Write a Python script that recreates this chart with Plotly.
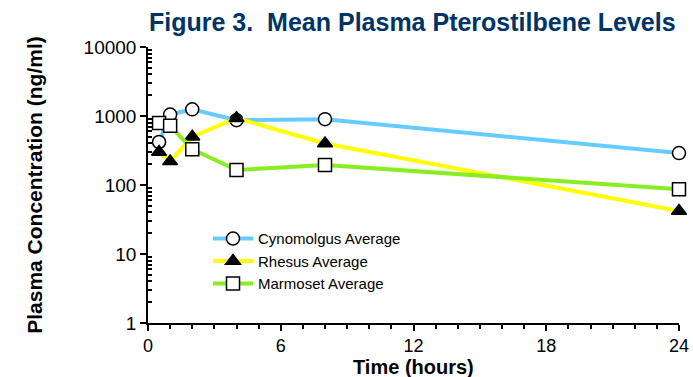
import plotly.graph_objects as go

time_h = [0.5, 1, 2, 4, 8, 24]
cynomolgus = [420, 1050, 1250, 870, 900, 290]
rhesus = [300, 220, 500, 930, 400, 42]
marmoset = [790, 720, 330, 165, 195, 87]
x_ticks = [0, 6, 12, 18, 24]
y_ticks = [1, 10, 100, 1000, 10000]
y_tick_labels = ["1", "10", "100", "1000", "10000"]
y_minor = [m * d for d in (1, 10, 100, 1000) for m in range(2, 10)]

series = [
    ("Cynomolgus Average", cynomolgus, "#66CCFF", "circle", "white"),
    ("Rhesus Average", rhesus, "#FFFF00", "triangle-up", "black"),
    ("Marmoset Average", marmoset, "#88EE22", "square", "white"),
]

fig = go.Figure()
for name, vals, col, sym, fill in series:
    fig.add_trace(go.Scatter(
        x=time_h, y=vals, name=name, mode="lines+markers",
        line=dict(color=col, width=4),
        marker=dict(symbol=sym, size=13, color=fill, line=dict(color="black", width=1.5)),
        cliponaxis=False,
    ))

fig.update_layout(
    width=693, height=377,
    margin=dict(l=148, r=14, t=47, b=54, autoexpand=False),
    paper_bgcolor="white", plot_bgcolor="white",
    font=dict(family="Liberation Sans, Arial, sans-serif", size=16, color="black"),
    title=dict(text="<b>Figure 3.  Mean Plasma Pterostilbene Levels</b>",
               font=dict(family="Liberation Sans, Arial", size=25, color="#003366"),
               x=0.595, xanchor="center", y=0.942, yanchor="middle"),
    showlegend=True,
    legend=dict(x=0.113, y=0.365, xanchor="left", yanchor="top", bgcolor="rgba(0,0,0,0)",
                font=dict(size=15), tracegroupgap=0, itemwidth=40),
    xaxis=dict(range=[0, 24], tickvals=x_ticks, showgrid=False, zeroline=False,
               automargin=False,
               showline=True, linecolor="black", linewidth=1.5,
               ticks="outside", ticklen=6, tickwidth=1.5, tickcolor="black",
               minor=dict(dtick=1, ticks="outside", ticklen=4, tickcolor="black", showgrid=False),
               tickfont=dict(size=18)),
    xaxis2=dict(range=[0, 24], tickvals=x_ticks, overlaying="x", anchor="y", side="bottom",
                showgrid=False, zeroline=False, showline=False, showticklabels=False,
                ticks="inside", ticklen=5, tickwidth=1.5, tickcolor="black", automargin=False),
    yaxis=dict(type="log", range=[0, 4], tickvals=y_ticks, ticktext=y_tick_labels,
               showgrid=False, zeroline=False, automargin=False,
               showline=True, linecolor="black", linewidth=1.5,
               ticks="outside", ticklen=6, tickwidth=1.5, tickcolor="black",
               minor=dict(tickvals=y_minor, ticks="inside", ticklen=4, tickcolor="black", showgrid=False),
               title=dict(text="<b>Plasma Concentration (ng/ml)</b>", font=dict(size=21), standoff=35),
               tickfont=dict(size=19)),
    yaxis2=dict(type="log", range=[0, 4], tickvals=y_ticks, overlaying="y", anchor="x", side="left",
                showgrid=False, zeroline=False, showline=False, showticklabels=False,
                ticks="inside", ticklen=5, tickwidth=1.5, tickcolor="black", automargin=False),
    annotations=[dict(text="<b>Time (hours)</b>", x=0.5, y=0, xref="paper", yref="paper",
                      xanchor="center", yanchor="middle", yshift=-43.5, showarrow=False,
                      font=dict(size=20))],
)

fig.write_html("out.html", config={"displayModeBar": False},
               post_script="document.body.style.margin='0';document.body.style.overflow='hidden';")
